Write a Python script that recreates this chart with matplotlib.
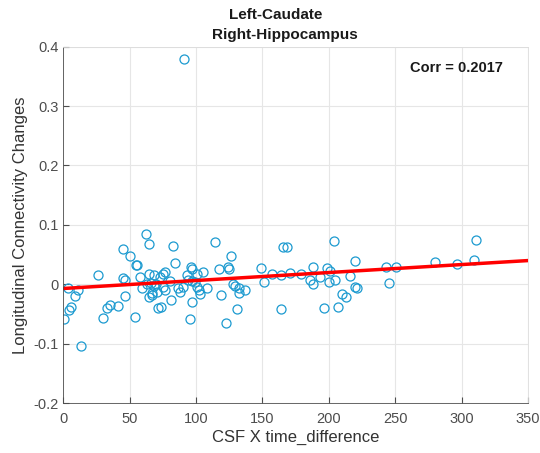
import matplotlib.pyplot as plt
import numpy as np

plt.rcParams['font.family'] = ['Liberation Sans', 'DejaVu Sans']

# scatter data
csf_time = [0.75, 3.3, 4.7, 5.8, 8.8, 10.8, 13.5, 26.3, 30.3, 32.8, 35.4, 41.4,
            44.9, 46.9, 45.4, 46.9, 50.4, 53.9, 54.9, 55.9, 57.9, 59.4, 62.5, 64.5,
            64.5, 63.4, 66, 68, 70, 64.5, 67, 71.7, 83, 114.6, 126, 124, 125, 117,
            84, 96, 97.3, 105.5, 100.6, 75.5, 77, 73, 68, 108, 119, 128, 129.4,
            132.7, 137, 132, 131, 122.6, 95.5, 97, 81, 73.7, 103, 102, 100.6, 90.5,
            86.7, 88, 75.5, 76.7, 70.7, 66.7, 80.5, 93, 94, 96.7, 99, 91,
            165.4, 168.4, 204, 219.7, 148.7, 151.2, 157.4, 163.6, 170.6, 179.4,
            185.6, 188.1, 188.1, 193.6, 198.6, 201, 200, 204.3, 215.9, 209.6,
            212.7, 219.7, 220.9, 196.4, 206.6, 163.6,
            311, 309, 296.7, 280, 250.5, 243, 245]
conn_change = [-0.058, -0.007, -0.044, -0.038, -0.020, -0.009, -0.104, 0.016, -0.057,
               -0.039, -0.035, -0.037, 0.060, -0.020, 0.010, 0.008, 0.047, -0.055,
               0.032, 0.032, 0.013, -0.007, 0.085, 0.068, 0.018, 0.001, 0.002, -0.003,
               0.000, -0.022, -0.015, -0.039, 0.065, 0.072, 0.047, 0.029, 0.026, 0.026,
               0.036, 0.029, 0.026, 0.021, 0.018, 0.018, 0.021, 0.012, 0.015, -0.007,
               -0.018, 0.000, -0.002, -0.007, -0.010, -0.015, -0.042, -0.065, -0.058,
               -0.029, -0.026, -0.038, -0.016, -0.010, -0.004, -0.004, -0.007, -0.013,
               -0.004, -0.010, -0.013, -0.018, 0.005, 0.015, 0.008, 0.006, 0.004, 0.379,
               0.063, 0.063, 0.073, 0.040, 0.027, 0.004, 0.017, 0.015, 0.019, 0.017,
               0.008, 0.030, 0.001, 0.012, 0.028, 0.023, 0.004, 0.008, 0.014, -0.017,
               -0.022, -0.004, -0.007, -0.039, -0.038, -0.042,
               0.075, 0.041, 0.034, 0.037, 0.029, 0.029, 0.002]

# fitted line end points
fit_x = [0, 350]
fit_y = [-0.007, 0.040]

corr_text = 'Corr = 0.2017'
title_lines = ['Left-Caudate', 'Right-Hippocampus']

fig = plt.figure(figsize=(5.4, 4.53), dpi=100)
ax = fig.add_axes([0.117, 0.11, 0.861, 0.787])

ax.plot(csf_time, conn_change, 'o', mfc='none', mec='#1c9ad0', ms=6.5, mew=0.9)
ax.plot(fit_x, fit_y, color='#ff0000', lw=2.5)

ax.set_xlim(0, 350)
ax.set_ylim(-0.2, 0.4)
ax.set_xticks(np.arange(0, 351, 50))
ax.set_yticks(np.arange(-0.2, 0.41, 0.1))
ax.set_yticklabels(['-0.2', '-0.1', '0', '0.1', '0.2', '0.3', '0.4'])
ax.grid(True, color='#e6e6e6', lw=0.8)
ax.set_axisbelow(True)
ax.tick_params(direction='in', labelsize=10.5, colors='#4d4d4d', length=4,
               top=False, right=False)
ax.tick_params(axis='x', pad=6)
for s in ax.spines.values():
    s.set_color('#4d4d4d')
    s.set_linewidth(0.6)
ax.spines['top'].set_color('#dcdcdc')
ax.spines['right'].set_color('#dcdcdc')

ax.set_xlabel('CSF X time_difference', fontsize=12, color='#333333', labelpad=3)
ax.set_ylabel('Longitudinal Connectivity Changes', fontsize=12, color='#333333')
fig.text(276 / 540, 1 - 15 / 453, title_lines[0], ha='center', va='center',
         fontsize=11, fontweight='bold', color='#1a1a1a')
fig.text(285 / 540, 1 - 35 / 453, title_lines[1], ha='center', va='center',
         fontsize=11, fontweight='bold', color='#1a1a1a')
ax.text(0.946, 0.94, corr_text, transform=ax.transAxes, ha='right', va='center',
        fontsize=10.5, fontweight='bold', color='#1a1a1a')

fig.savefig('out.png', dpi=100)
